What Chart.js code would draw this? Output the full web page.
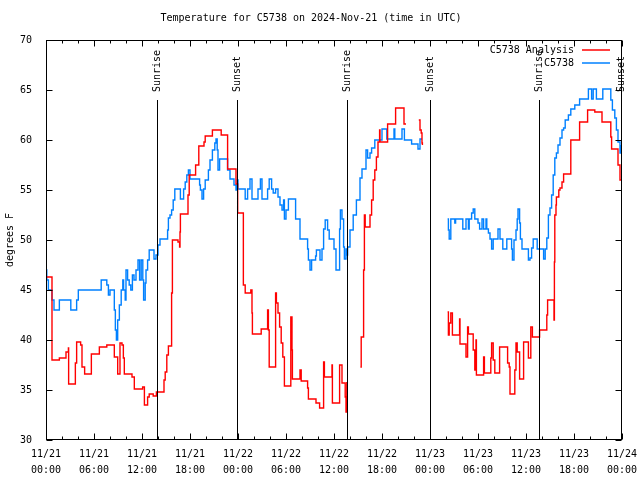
<!DOCTYPE html>
<html><head><meta charset="utf-8">
<script src="https://cdn.jsdelivr.net/npm/chart.js@4/dist/chart.umd.min.js"></script>
<style>html,body{margin:0;background:#fff}</style>
</head><body>
<canvas id="c" width="640" height="480"></canvas>
<script>
// hours since 11/21 00:00 UTC
const tickDates = ['11/21','11/21','11/21','11/21','11/22','11/22','11/22','11/22','11/23','11/23','11/23','11/23','11/24'];
const tickTimes = ['00:00','06:00','12:00','18:00','00:00','06:00','12:00','18:00','00:00','06:00','12:00','18:00','00:00'];

const sunHours = [13.83, 23.92, 37.67, 47.95, 61.67, 71.85];
const sunNames = ['Sunrise','Sunset','Sunrise','Sunset','Sunrise','Sunset'];

const anaHours = [0,0.75,1.67,2.5,2.8,2.83,3.67,3.83,4.33,4.5,4.83,5.67,6.67,7.6,8.54,8.96,9.25,9.5,9.67,9.79,10.75,11.04,12.08,12.3,12.7,12.9,13.4,13.8,14.75,14.9,15.1,15.3,15.7,15.8,16.5,16.7,16.75,16.8,17.75,17.9,18.7,19.1,19.75,19.9,20.8,21.9,22.7,23.75,23.96,24.67,24.9,25.6,25.75,25.8,26.9,27.7,27.8,27.9,28.7,28.8,29.0,29.2,29.4,29.6,29.8,30.6,30.75,30.8,31.75,31.9,32.7,32.8,33.75,34.2,34.7,34.8,35.75,35.8,36.7,37.0,37.4,37.5,37.6,37.8,
  39.3,39.4,39.7,39.8,39.9,40.5,40.7,40.9,41.1,41.3,41.5,41.7,41.75,42.7,43.7,44.75,45.0,45.05,
  46.6,46.75,46.9,47.0,47.05,47.1,
  50.2,50.3,50.4,50.6,50.8,51.7,51.75,52.5,52.7,52.8,53.4,53.6,53.75,53.8,54.7,54.8,55.6,55.7,55.9,56.1,56.7,57.7,57.9,58.0,58.6,58.75,58.9,59.2,59.7,60.3,60.6,60.8,61.7,62.6,62.7,63.5,63.55,63.6,63.75,63.8,64.1,64.25,64.5,64.7,65.6,66.7,67.7,68.6,69.5,70.6,70.7,71.5,71.75,71.9];
const anaTemps = [46.3,38.0,38.2,38.8,39.2,35.6,37.7,39.8,39.5,37.3,36.6,38.6,39.3,39.5,38.3,36.6,39.7,39.5,38.2,36.6,36.3,35.1,35.3,33.5,34.3,34.6,34.4,34.8,36.0,36.8,38.5,39.4,44.7,50.0,49.8,49.3,50.8,52.6,54.5,56.5,57.5,59.4,59.8,60.4,61.0,60.5,57.1,55.6,52.7,45.5,44.7,45.0,42.7,40.6,41.1,43.0,41.0,37.3,44.7,43.7,42.7,41.3,39.7,38.3,35.4,42.3,39.0,36.1,37.0,35.9,35.2,34.1,33.7,33.2,37.8,36.3,37.5,33.7,37.5,35.7,34.3,32.8,35.8,null,
  37.3,40.3,47.0,52.5,51.3,52.5,54.0,56.0,57.0,58.3,59.8,61.0,59.8,61.6,63.2,61.6,61.6,null,
  62.0,61.0,60.7,59.7,59.5,null,
  42.8,40.5,41.7,42.7,40.5,42.1,39.6,38.3,41.3,40.6,39.0,37.0,40.0,36.5,38.3,36.7,38.2,39.7,38.0,36.7,39.3,37.7,37.3,34.6,37.0,39.7,38.8,36.1,39.8,38.2,41.3,40.3,41.0,42.5,44.0,42.0,47.8,52.5,53.5,54.3,55.0,55.2,55.8,56.6,60.0,61.8,63.0,62.8,61.8,60.3,59.1,57.5,56.0,56.0];

const obsHours = [0,0.1,0.3,0.75,1.0,1.67,3.1,3.83,4.04,6.9,7.6,7.8,8.0,8.54,8.67,8.8,8.96,9.17,9.4,9.6,9.7,9.9,10.0,10.2,10.4,10.6,10.8,11.0,11.25,11.5,11.7,11.9,12.1,12.2,12.4,12.5,12.7,12.9,13.5,13.75,14.0,14.25,15.2,15.3,15.5,15.7,15.9,16.1,16.8,17.2,17.4,17.6,17.8,18.0,19.2,19.3,19.5,19.7,19.9,20.3,20.5,20.8,21.1,21.25,21.4,21.5,21.7,22.7,23.0,23.5,23.75,23.9,24.0,24.9,25.2,25.5,25.75,26.5,26.8,27.0,27.7,27.9,28.2,28.4,28.7,29.0,29.25,29.5,29.7,29.8,30.0,30.3,31.2,31.75,32.7,32.8,33.0,33.2,33.7,33.8,34.25,34.5,34.7,34.9,35.2,35.4,36.0,36.25,36.7,36.8,37.0,37.2,37.3,37.5,37.6,37.7,38.0,38.4,38.8,39.25,39.5,40.0,40.2,40.5,40.7,41.1,42.0,42.6,43.5,43.6,44.5,44.8,45.7,46.5,46.75,47.0,47.1,
  50.2,50.3,50.4,50.6,51.1,51.2,52.1,52.5,52.8,52.9,53.2,53.4,53.6,54.0,54.2,54.5,54.7,55.0,55.1,55.3,55.5,55.7,55.9,56.5,56.75,57.1,57.6,58.2,58.3,58.5,58.75,58.9,59.0,59.2,59.3,59.5,60.3,60.5,60.7,60.9,61.4,62.2,62.4,62.6,62.8,63.0,63.2,63.4,63.6,63.8,64.0,64.25,64.5,64.7,64.9,65.3,65.6,66.1,66.7,67.8,68.2,68.4,68.8,69.6,70.6,70.8,71.1,71.3,71.5,71.75,71.9];
const obsTemps = [47.0,46.0,45.0,44.0,43.0,44.0,43.0,44.0,45.0,46.0,45.5,44.5,45.0,43.0,41.0,40.0,42.0,43.5,45.0,46.0,45.0,44.0,47.0,46.0,45.5,45.0,46.5,46.0,47.0,48.0,46.0,48.0,46.0,44.0,45.7,47.0,48.0,49.0,48.1,48.5,49.5,50.1,51.0,52.2,52.5,53.0,54.0,55.1,54.1,55.1,55.8,56.5,57.0,56.1,55.5,55.0,54.1,55.1,56.0,57.0,58.0,59.0,59.7,60.1,59.0,57.0,58.1,57.0,56.1,55.5,55.0,56.0,55.1,54.1,55.1,56.1,54.1,55.1,56.1,54.1,55.1,56.1,55.1,54.7,55.1,54.3,53.5,53.0,54.0,52.1,53.0,54.1,52.1,50.1,49.1,48.0,47.0,48.0,48.4,49.0,48.0,49.1,51.1,52.0,51.0,50.1,49.1,47.0,51.1,53.0,52.1,49.3,48.1,49.1,48.5,49.3,51.0,52.5,54.0,56.2,57.1,59.0,58.2,58.7,59.2,60.0,61.1,60.1,61.1,60.1,61.1,60.0,59.6,59.1,60.1,60.1,null,
  52.1,51.0,50.1,52.1,51.7,52.1,51.1,52.1,51.1,52.1,52.7,53.1,52.1,51.7,51.1,52.1,51.1,52.1,51.1,50.7,50.1,49.1,50.1,51.1,50.1,49.1,50.1,49.1,48.0,50.0,51.0,52.1,53.1,51.7,50.1,49.1,48.0,48.2,49.2,50.1,49.1,48.1,49.1,50.2,52.5,53.2,54.5,56.5,58.2,58.7,59.5,60.2,61.0,61.2,62.0,62.5,63.1,63.5,64.1,65.1,64.1,65.1,64.1,65.1,64.0,63.0,62.2,61.0,59.8,58.7,59.5];

const FONT = '"DejaVu Sans Mono", "Liberation Mono", monospace';

const decor = {
  id: 'decor',
  afterDatasetsDraw(chart) {
    const {ctx, chartArea: a, scales: {x, y}} = chart;
    ctx.save();
    ctx.strokeStyle = '#000';
    ctx.fillStyle = '#000';
    ctx.lineWidth = 1;
    ctx.font = '10px ' + FONT;

    // sunrise / sunset markers
    sunHours.forEach((h, i) => {
      const px = Math.round(x.getPixelForValue(h)) + 0.5;
      ctx.beginPath();
      ctx.moveTo(px, y.getPixelForValue(30));
      ctx.lineTo(px, y.getPixelForValue(64));
      ctx.stroke();
      ctx.save();
      ctx.translate(px, y.getPixelForValue(64.8));
      ctx.rotate(-Math.PI / 2);
      ctx.textAlign = 'left';
      ctx.textBaseline = 'middle';
      ctx.fillText(sunNames[i], 0, 0);
      ctx.restore();
    });

    // frame
    const L = Math.round(a.left) + 0.5, R = Math.round(a.right) - 0.5;
    const T = Math.round(a.top) + 0.5, B = Math.round(a.bottom) - 0.5;
    ctx.strokeRect(L, T, R - L, B - T);

    // inward ticks
    ctx.beginPath();
    for (let v = 30; v <= 70; v += 5) {
      const py = Math.round(y.getPixelForValue(v)) + 0.5;
      ctx.moveTo(L, py); ctx.lineTo(L + 6, py);
      ctx.moveTo(R, py); ctx.lineTo(R - 6, py);
    }
    for (let h = 0; h <= 72; h += 2) {
      const px = Math.round(x.getPixelForValue(h)) + 0.5;
      const len = h % 6 === 0 ? 6 : 3;
      ctx.moveTo(px, B); ctx.lineTo(px, B - len);
      ctx.moveTo(px, T); ctx.lineTo(px, T + len);
    }
    ctx.stroke();

    // key
    chart.data.datasets.forEach((ds, i) => {
      const ty = a.top + 10 + i * 13;
      ctx.textAlign = 'right';
      ctx.textBaseline = 'middle';
      ctx.fillStyle = '#000';
      ctx.fillText(ds.label, a.right - 48, ty);
      ctx.strokeStyle = ds.borderColor;
      ctx.lineWidth = 1.5;
      ctx.beginPath();
      ctx.moveTo(a.right - 40, ty);
      ctx.lineTo(a.right - 12, ty);
      ctx.stroke();
    });
    ctx.restore();
  }
};

const toPts = (hs, vs) => hs.map((h, i) => ({x: h, y: vs[i]}));

new Chart(document.getElementById('c'), {
  type: 'line',
  data: {
    datasets: [
      { label: 'C5738 Analysis', data: toPts(anaHours, anaTemps), borderColor: '#ff0000', borderWidth: 1.4, stepped: true, pointRadius: 0, spanGaps: false },
      { label: 'C5738', data: toPts(obsHours, obsTemps), borderColor: '#0080ff', borderWidth: 1.4, stepped: true, pointRadius: 0, spanGaps: false }
    ]
  },
  options: {
    responsive: false,
    animation: false,
    layout: { padding: { right: 18 } },
    plugins: {
      legend: { display: false },
      tooltip: { enabled: false },
      title: {
        display: true,
        text: 'Temperature for C5738 on 2024-Nov-21 (time in UTC)',
        color: '#000',
        font: { family: FONT, size: 10, weight: 'normal', lineHeight: 1.2 },
        padding: { top: 12, bottom: 16 }
      }
    },
    scales: {
      x: {
        type: 'linear', min: 0, max: 72,
        grid: { display: false },
        border: { display: false },
        afterFit: s => { s.height = 40; },
        ticks: {
          stepSize: 6, autoSkip: false, maxRotation: 0, padding: -2, color: '#000',
          font: { family: FONT, size: 10, lineHeight: 1.6 },
          callback: v => [tickDates[v / 6], tickTimes[v / 6]]
        }
      },
      y: {
        min: 30, max: 70,
        grid: { display: false },
        border: { display: false },
        afterFit: s => { s.width = 46; },
        title: { display: true, text: 'degrees F', color: '#000', font: { family: FONT, size: 10 }, padding: 4 },
        ticks: { stepSize: 5, padding: 6, color: '#000', font: { family: FONT, size: 10 } }
      }
    }
  },
  plugins: [decor]
});
</script>
</body></html>
